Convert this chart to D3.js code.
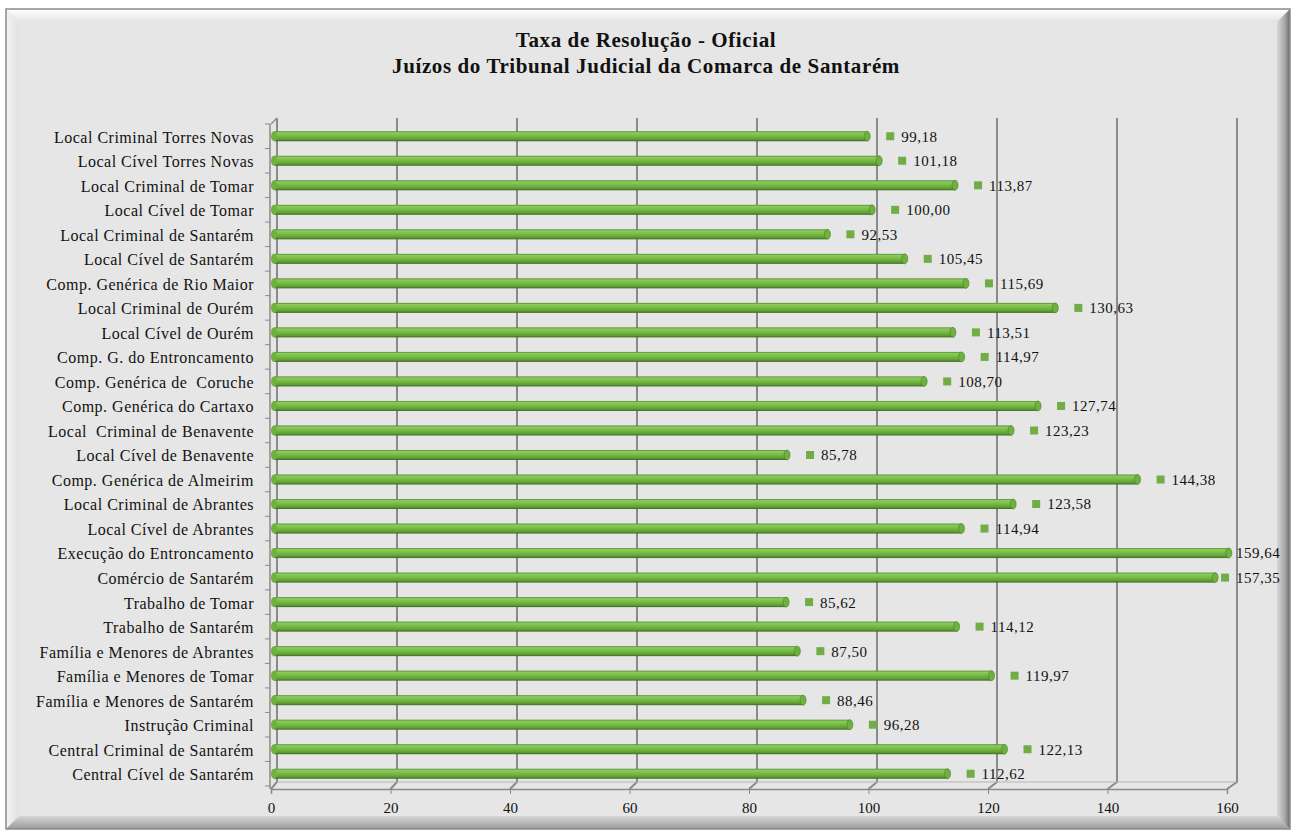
<!DOCTYPE html>
<html>
<head>
<meta charset="utf-8">
<script src="https://cdn.jsdelivr.net/npm/d3@7"></script>
<style>
  body { margin: 0; background: #fff; }
  text { font-family: "Book Antiqua", "Palatino Linotype", Palatino, "Liberation Serif", serif; fill: #111; white-space: pre; }
</style>
</head>
<body>
<svg></svg>
<script>
let categories = [
    'Local Criminal Torres Novas', 'Local Cível Torres Novas', 'Local Criminal de Tomar',
    'Local Cível de Tomar', 'Local Criminal de Santarém', 'Local Cível de Santarém',
    'Comp. Genérica de Rio Maior', 'Local Criminal de Ourém', 'Local Cível de Ourém',
    'Comp. G. do Entroncamento', 'Comp. Genérica de  Coruche', 'Comp. Genérica do Cartaxo',
    'Local  Criminal de Benavente', 'Local Cível de Benavente', 'Comp. Genérica de Almeirim',
    'Local Criminal de Abrantes', 'Local Cível de Abrantes', 'Execução do Entroncamento',
    'Comércio de Santarém', 'Trabalho de Tomar', 'Trabalho de Santarém',
    'Família e Menores de Abrantes', 'Família e Menores de Tomar', 'Família e Menores de Santarém',
    'Instrução Criminal', 'Central Criminal de Santarém', 'Central Cível de Santarém'
];
let values = [
    99.18, 101.18, 113.87,
    100.00, 92.53, 105.45,
    115.69, 130.63, 113.51,
    114.97, 108.70, 127.74,
    123.23, 85.78, 144.38,
    123.58, 114.94, 159.64,
    157.35, 85.62, 114.12,
    87.50, 119.97, 88.46,
    96.28, 122.13, 112.62
];
let ticks = [0, 20, 40, 60, 80, 100, 120, 140, 160];
let titleLines = ['Taxa de Resolução - Oficial', 'Juízos do Tribunal Judicial da Comarca de Santarém'];

let data = categories.map((c, i) => ({ name: c, value: values[i] }));

let svgWidth = 1299, svgHeight = 834;
let svg = d3.select('svg').attr('width', svgWidth).attr('height', svgHeight);
let defs = svg.append('defs');

// frame with bevel
let fx0 = 6, fy0 = 9, fx1 = 1290, fy1 = 829, bw = 13;

function grad(id, x2, y2, stops) {
    let g = defs.append('linearGradient').attr('id', id)
        .attr('x1', 0).attr('y1', 0).attr('x2', x2).attr('y2', y2);
    stops.forEach(s => g.append('stop').attr('offset', s[0]).attr('stop-color', s[1]));
}
grad('bvTop', 0, 1, [[0, '#ffffff'], [1, '#e4e4e4']]);
grad('bvLeft', 1, 0, [[0, '#f4f4f4'], [1, '#e2e2e2']]);
grad('bvRight', 1, 0, [[0, '#d8d8d8'], [0.6, '#a8a8a8'], [1, '#6a6a6a']]);
grad('bvBottom', 0, 1, [[0, '#d6d6d6'], [1, '#9a9a9a']]);
grad('barGrad', 0, 1, [[0, '#4f8a2b'], [0.15, '#8ccb5c'], [0.45, '#78bd47'], [0.8, '#5f9f35'], [1, '#3d6b20']]);

svg.append('rect').attr('x', fx0).attr('y', fy0).attr('width', fx1 - fx0).attr('height', fy1 - fy0)
    .attr('fill', '#e6e6e6');
let bevel = [
    ['bvTop', [[fx0, fy0], [fx1, fy0], [fx1 - bw, fy0 + bw], [fx0 + bw, fy0 + bw]]],
    ['bvLeft', [[fx0, fy0], [fx0 + bw, fy0 + bw], [fx0 + bw, fy1 - bw], [fx0, fy1]]],
    ['bvBottom', [[fx0, fy1], [fx0 + bw, fy1 - bw], [fx1 - bw, fy1 - bw], [fx1, fy1]]],
    ['bvRight', [[fx1, fy0], [fx1, fy1], [fx1 - bw, fy1 - bw], [fx1 - bw, fy0 + bw]]]
];
svg.selectAll('polygon.bevel').data(bevel).enter().append('polygon')
    .attr('class', 'bevel')
    .attr('points', d => d[1].map(p => p.join(',')).join(' '))
    .attr('fill', d => 'url(#' + d[0] + ')');
svg.append('rect').attr('x', fx0).attr('y', fy0).attr('width', fx1 - fx0).attr('height', fy1 - fy0)
    .attr('fill', 'none').attr('stroke', '#8a8a8a').attr('stroke-width', 1.5);

// title
svg.selectAll('text.title').data(titleLines).enter().append('text')
    .attr('class', 'title')
    .attr('x', 646).attr('y', (d, i) => 47 + i * 26)
    .attr('text-anchor', 'middle')
    .style('font-size', '21px').style('font-weight', 'bold').style('letter-spacing', '0.6px')
    .text(d => d);

// scales
let xFront = d3.scaleLinear().domain([0, 160]).range([271, 1227]);
let xBack = d3.scaleLinear().domain([0, 160]).range([277, 1237]);
let xBar = d3.scaleLinear().domain([0, 160]).range([274, 1231]);
let y = d3.scaleBand().domain(categories).range([124, 786]);

let backTop = 118, backBottom = 782, frontAxis = 789;

// back wall gridlines and floor
let grid = svg.append('g').attr('stroke', '#8a8a8a').attr('fill', 'none');
grid.selectAll('path.grid').data(ticks).enter().append('path')
    .attr('d', d => 'M' + xBack(d) + ',' + backTop + 'V' + backBottom + 'L' + xFront(d) + ',' + frontAxis)
    .attr('stroke-width', 2);
grid.append('line').attr('x1', xBack(0)).attr('x2', xBack(160)).attr('y1', backBottom).attr('y2', backBottom)
    .attr('stroke', '#b5b5b5').attr('stroke-width', 1);

// left wall
grid.append('path')
    .attr('d', 'M' + xFront(0) + ',' + (backTop + 6) + 'L' + xBack(0) + ',' + backTop)
    .attr('stroke-width', 1.5);
grid.append('line').attr('x1', xFront(0) - 1).attr('x2', xFront(0) - 1)
    .attr('y1', backTop + 6).attr('y2', frontAxis).attr('stroke-width', 1.5);

// front axis with ticks
let xAxis = d3.axisBottom(xFront).tickValues(ticks).tickSize(5).tickFormat(d3.format('d'));
let ax = svg.append('g').attr('transform', 'translate(0,' + frontAxis + ')').call(xAxis);
ax.select('.domain').attr('stroke', '#8a8a8a').attr('stroke-width', 1.5);
ax.selectAll('.tick line').attr('stroke', '#8a8a8a');
ax.selectAll('.tick text').attr('dy', '1.05em').style('font-size', '15px')
    .style('font-family', '"Book Antiqua", "Palatino Linotype", "Liberation Serif", serif').attr('fill', '#111');

// left category axis
let yAxis = d3.axisLeft(y).tickSize(0).tickPadding(17);
let ay = svg.append('g').attr('transform', 'translate(' + xFront(0) + ',0)').call(yAxis);
ay.select('.domain').remove();
ay.selectAll('.tick text').style('font-size', '16px').attr('dy', '0.4em').style('letter-spacing', '0.5px')
    .style('white-space', 'pre')
    .style('font-family', '"Book Antiqua", "Palatino Linotype", "Liberation Serif", serif').attr('fill', '#111');
// small ticks between categories
svg.append('g').selectAll('line').data(categories.concat(['end'])).enter().append('line')
    .attr('x1', xFront(0) - 6).attr('x2', xFront(0) - 1)
    .attr('y1', (d, i) => 124 + i * y.step()).attr('y2', (d, i) => 124 + i * y.step())
    .attr('stroke', '#8a8a8a');

let barH = 10;
let fmt = v => d3.format('.2f')(v).replace('.', ',');
let labelX = d => Math.min(xBar(d.value) + 34, 1236);

// value labels (markers first so long bars cover them)
let labels = svg.append('g');
labels.selectAll('rect').data(data).enter().append('rect')
    .attr('x', d => labelX(d) - 15).attr('y', d => y(d.name) + y.bandwidth() / 2 - 4)
    .attr('width', 8).attr('height', 8).attr('fill', '#70ad47');
labels.selectAll('text').data(data).enter().append('text')
    .attr('x', labelX).attr('y', d => y(d.name) + y.bandwidth() / 2)
    .attr('dy', '0.36em').style('font-size', '15px').style('letter-spacing', '0.5px')
    .text(d => fmt(d.value));

// bars (cylinders)
let bars = svg.append('g').selectAll('g').data(data).enter().append('g')
    .attr('transform', d => 'translate(0,' + (y(d.name) + y.bandwidth() / 2) + ')');
bars.append('rect')
    .attr('x', xBar(0)).attr('y', -barH / 2)
    .attr('width', d => xBar(d.value) - xBar(0)).attr('height', barH)
    .attr('fill', 'url(#barGrad)');
bars.append('ellipse')
    .attr('cx', d => xBar(d.value)).attr('cy', 0)
    .attr('rx', 3).attr('ry', barH / 2)
    .attr('fill', '#6fb13f').attr('stroke', '#4a7f2a').attr('stroke-width', 0.6);
bars.append('ellipse')
    .attr('cx', xBar(0)).attr('cy', 0)
    .attr('rx', 3).attr('ry', barH / 2)
    .attr('fill', '#6fb13f');
</script>
</body>
</html>
